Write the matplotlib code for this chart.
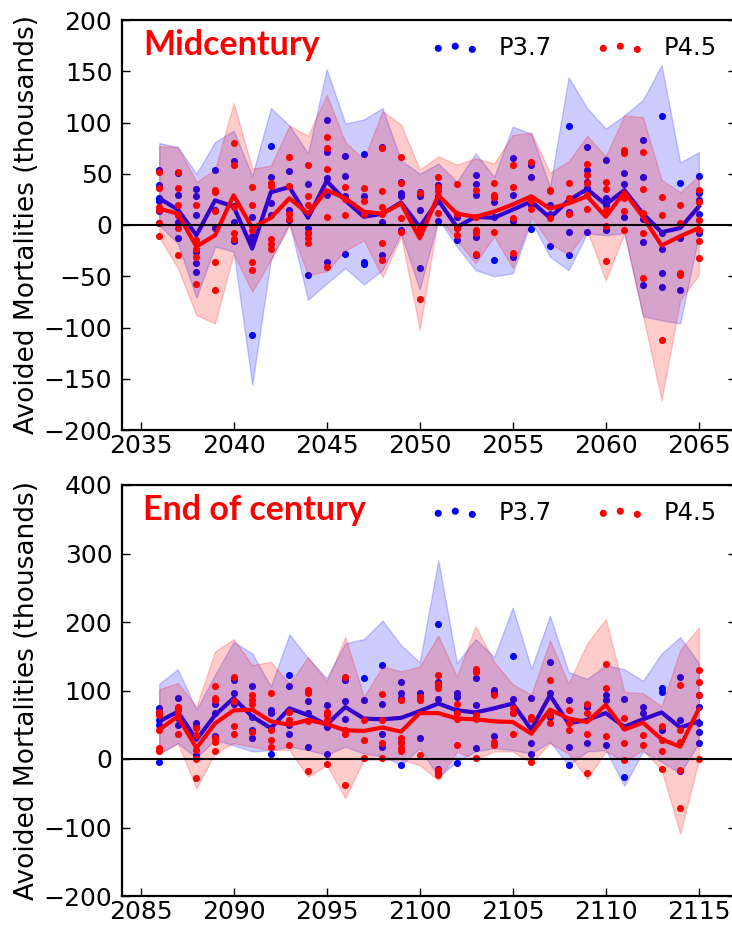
import numpy as np
import matplotlib
matplotlib.use("Agg")
import matplotlib.pyplot as plt

# ---- Midcentury (2036-2065), values in thousands ----
mid_years = list(range(2036, 2066))

mid_p37_mean = [26, 15, -10, 24, 18, -23, 32, 37, 7, 43, 24, 8, 11, 22, -2,
                24, -2, 8, 7, 15, 23, 7, 24, 35, 20, 34, 11, -7, -3, 18]
mid_p37_lo = [0, -18, -71, -21, -26, -156, -34, 2, -73, -57, -42, -58, -44, -8, -63,
              6, -21, -44, -50, -47, 4, -31, -44, -8, -10, -8, -89, -93, -96, -10]
mid_p37_hi = [80, 76, 50, 81, 92, 48, 114, 97, 70, 152, 99, 103, 114, 63, 50,
              60, 42, 70, 47, 96, 89, 37, 144, 114, 94, 107, 122, 156, 61, 71]

mid_p45_mean = [16, 11, -21, -10, 29, -3, 7, 26, 11, 34, 26, 13, 11, 21, -13,
                29, 11, 8, 13, 20, 28, 16, 21, 28, 8, 32, 8, -20, -11, -3]
mid_p45_lo = [-12, -42, -88, -96, -28, -65, -34, 0, -49, -45, -25, -15, -51, -11, -102,
              8, -15, -37, -11, -42, 8, -18, -29, -5, -54, -8, -88, -171, -73, -49]
mid_p45_hi = [77, 76, 42, 54, 119, 55, 58, 97, 87, 127, 81, 64, 111, 98, 54,
              67, 59, 65, 60, 88, 90, 51, 62, 87, 67, 107, 105, 44, 32, 48]

mid_p37_pts = [[54, 39, 26, 23, 14, 2], [51, 29, 10, 3, -13], [35, 28, 10, -26, -37, -46],
               [54, 15, -3], [62, 19, 3, -16], [8, -11, -15, -107], [77, 47, 21, 10],
               [53, 15, 5], [40, -3, -8, -49], [102, 71, 46, 29, -36], [67, 48, 28, -28],
               [69, 28, -36, -38], [76, 3, -29], [42, 31, 28, -5], [32, 28, 15, -8, -42],
               [39, 28, 23, 4], [8, -3, -15], [49, 40, 29, -12, -29], [27, 22, 8, -34],
               [65, 29, 4, -31], [59, 47, 20, -4], [20, 11, -20], [97, 13, -7, -29],
               [76, 54, 42, 36, -7], [63, 26, 20, -5], [51, 40, 28, 8],
               [83, 47, 6, -17, -59], [106, -8, -23, -47, -60], [41, -13, -63],
               [48, 31, 24, 11, -8]]
mid_p45_pts = [[52, 36, 18, 15, 2, -11], [52, 36, 20, 10, -3, -29], [20, -15, -23, -31, -58],
               [34, 32, 14, -36, -63], [80, 59, 18, -8, -14], [37, 20, -5, -36, -44],
               [41, 38, -14, -19, -23], [66, 38, 11, 6], [59, 28, 20, -8, -13, -18],
               [86, 75, 55, 8, -41], [37, 25, 10], [36, 23, 11], [75, 33, 18, 11, -18, -34],
               [66, 41, 7, -7], [31, -3, -5, -72], [47, 37, 33, 12], [40, 11, -3, -10],
               [34, 8, -5, -8, -28], [41, 29, 27, -7], [59, 37, 7, -27], [61, 23, 16],
               [34, 33, 7], [41, 26, 11], [60, 49, 41, 29, 16], [42, 35, 15, -1, -35],
               [73, 70, 26, 14, -5], [71, 35, 12, -8, -52], [27, 10, -112],
               [20, 2, -47, -49], [34, 22, 5, -5, -16, -32]]

# ---- End of century (2086-2115) ----
end_years = list(range(2086, 2116))

end_p37_mean = [55, 69, 28, 64, 89, 62, 45, 74, 64, 50, 76, 59, 58, 60, 70,
                81, 71, 68, 74, 81, 43, 93, 52, 57, 67, 47, 58, 68, 46, 55]
end_p37_lo = [8, 23, 2, 28, 20, 11, 13, 18, 13, 6, 18, 8, 4, -9, 16,
              -26, -4, 11, 16, 13, 8, 25, -9, 11, 13, -39, 11, -4, -21, 23]
end_p37_hi = [110, 131, 72, 123, 171, 154, 106, 182, 147, 118, 169, 175, 202, 166, 141,
              290, 140, 175, 149, 221, 132, 209, 127, 117, 137, 131, 114, 154, 178, 140]

end_p45_mean = [43, 62, 16, 52, 71, 72, 55, 50, 57, 51, 42, 41, 46, 40, 67,
                67, 59, 58, 55, 54, 37, 72, 59, 54, 79, 43, 53, 29, 18, 73]
end_p45_lo = [8, 23, -43, 9, 23, 18, 13, 13, -26, -9, -57, -1, -1, -1, -9,
              -31, 11, -1, 11, 11, -6, 23, 8, -29, 11, -3, 13, -16, -109, -2]
end_p45_hi = [102, 111, 76, 157, 175, 137, 142, 110, 149, 113, 178, 91, 135, 128, 135,
              180, 120, 194, 142, 109, 94, 173, 110, 169, 204, 98, 96, 77, 159, 192]

end_p37_pts = [[74, 68, 57, 50, -5], [89, 74, 60, 50], [52, 47, 6], [81, 67, 33],
               [115, 96, 81], [106, 62, 42, 30], [72, 67, 45, 8], [123, 107, 50, 37],
               [98, 84, 67, 18], [79, 67, 47, 8], [115, 84, 59], [118, 86],
               [137, 81, 37, 18], [112, 96, 89, 25, -9], [96, 30],
               [197, 113, 106, 88, -14, -21], [96, 91, 70, -6], [118, 79, 16],
               [101, 97, 34], [151, 88, 67], [89, 23, 8], [142, 96, 62], [86, 18, -9],
               [76, 23], [93, 86, 20], [88, 47, -26], [76, 67], [103, 98, 42],
               [120, 57, -18], [93, 76, 52, 40, 23]]
end_p45_pts = [[69, 64, 43, 16, 11], [76, 72, 65, 37], [45, 35, 13, 0, -28],
               [106, 89, 86, 30, 25, 11], [120, 84, 48, 36], [93, 86, 81, 40],
               [96, 42, 28, 18], [69, 57, 21], [101, 96, 55, -17], [69, 64, 57, -8],
               [120, 42, 37, -38], [57, 28, 1], [95, 57, 23, 1], [86, 30, 23, 16, 11],
               [91, 86, 6], [123, 110, 103, -16, -23], [81, 67, 59, 20],
               [132, 127, 64, 59, 1], [93, 25, 20], [74, 67, 37], [62, 59, -4],
               [116, 64, 52], [72, 52, 42], [81, 67, 37, -20], [139, 103, 33],
               [60, 23, -1], [35, 20], [48, 28, 11, -14], [108, 42, 25, -16, -71],
               [130, 112, 93, 0]]

ylabel = "Avoided Mortalities (thousands)"
tick_font = 18


def flat(years, pts):
    xs, ys = [], []
    for yr, vals in zip(years, pts):
        xs += [yr] * len(vals)
        ys += vals
    return xs, ys


def draw_panel(ax, years, m37, lo37, hi37, p37, m45, lo45, hi45, p45, title, tsize):
    # blue drawn first so the red band tints it purple
    ax.fill_between(years, lo37, hi37, color="blue", alpha=0.2)
    ax.plot(years, m37, color="blue", lw=3, zorder=2)
    x, y = flat(years, p37)
    ax.scatter(x, y, s=26, color="blue", linewidths=0, zorder=2, label="P3.7")
    ax.fill_between(years, lo45, hi45, color="red", alpha=0.2, zorder=3)
    x, y = flat(years, p45)
    ax.scatter(x, y, s=26, color="red", linewidths=0, zorder=4, label="P4.5")
    ax.plot(years, m45, color="red", lw=3, zorder=5)
    ax.axhline(0, color="black", lw=1.5, zorder=6)

    ax.text(0.034, 0.915, title, transform=ax.transAxes, color="red",
            fontsize=tsize, fontweight="bold", family="Lato", va="baseline")
    ax.legend(loc="upper right", bbox_to_anchor=(1.005, 1.015), ncol=2, frameon=False,
              scatterpoints=3, fontsize=17.5, handlelength=2.0, columnspacing=1.8,
              handletextpad=0.8)

    ax.tick_params(direction="in", length=6, width=1, labelsize=tick_font,
                   right=True, top=False)
    ax.tick_params(axis="x", pad=3)
    ax.tick_params(axis="y", pad=7)
    for s in ax.spines.values():
        s.set_linewidth(1.6)
    ax.set_ylabel(ylabel, fontsize=19)
    ax.yaxis.set_label_coords(-0.134, 0.5)


fig = plt.figure(figsize=(7.32, 9.27), dpi=100)
W, H = 732.0, 927.0
ax1 = fig.add_axes([122 / W, 1 - 430 / H, 614 / W, 410 / H])
ax2 = fig.add_axes([122 / W, 1 - 896 / H, 614 / W, 411 / H])

draw_panel(ax1, mid_years, mid_p37_mean, mid_p37_lo, mid_p37_hi, mid_p37_pts,
           mid_p45_mean, mid_p45_lo, mid_p45_hi, mid_p45_pts, "Midcentury", 24.5)
ax1.set_xlim(2034, 2067)
ax1.set_ylim(-200, 200)
ax1.set_xticks(range(2035, 2070, 5))
ax1.set_yticks(range(-200, 201, 50))

draw_panel(ax2, end_years, end_p37_mean, end_p37_lo, end_p37_hi, end_p37_pts,
           end_p45_mean, end_p45_lo, end_p45_hi, end_p45_pts, "End of century", 24.5)
ax2.set_xlim(2084, 2117)
ax2.set_ylim(-200, 400)
ax2.set_xticks(range(2085, 2120, 5))
ax2.set_yticks(range(-200, 401, 100))

fig.savefig("out.png", dpi=100)
